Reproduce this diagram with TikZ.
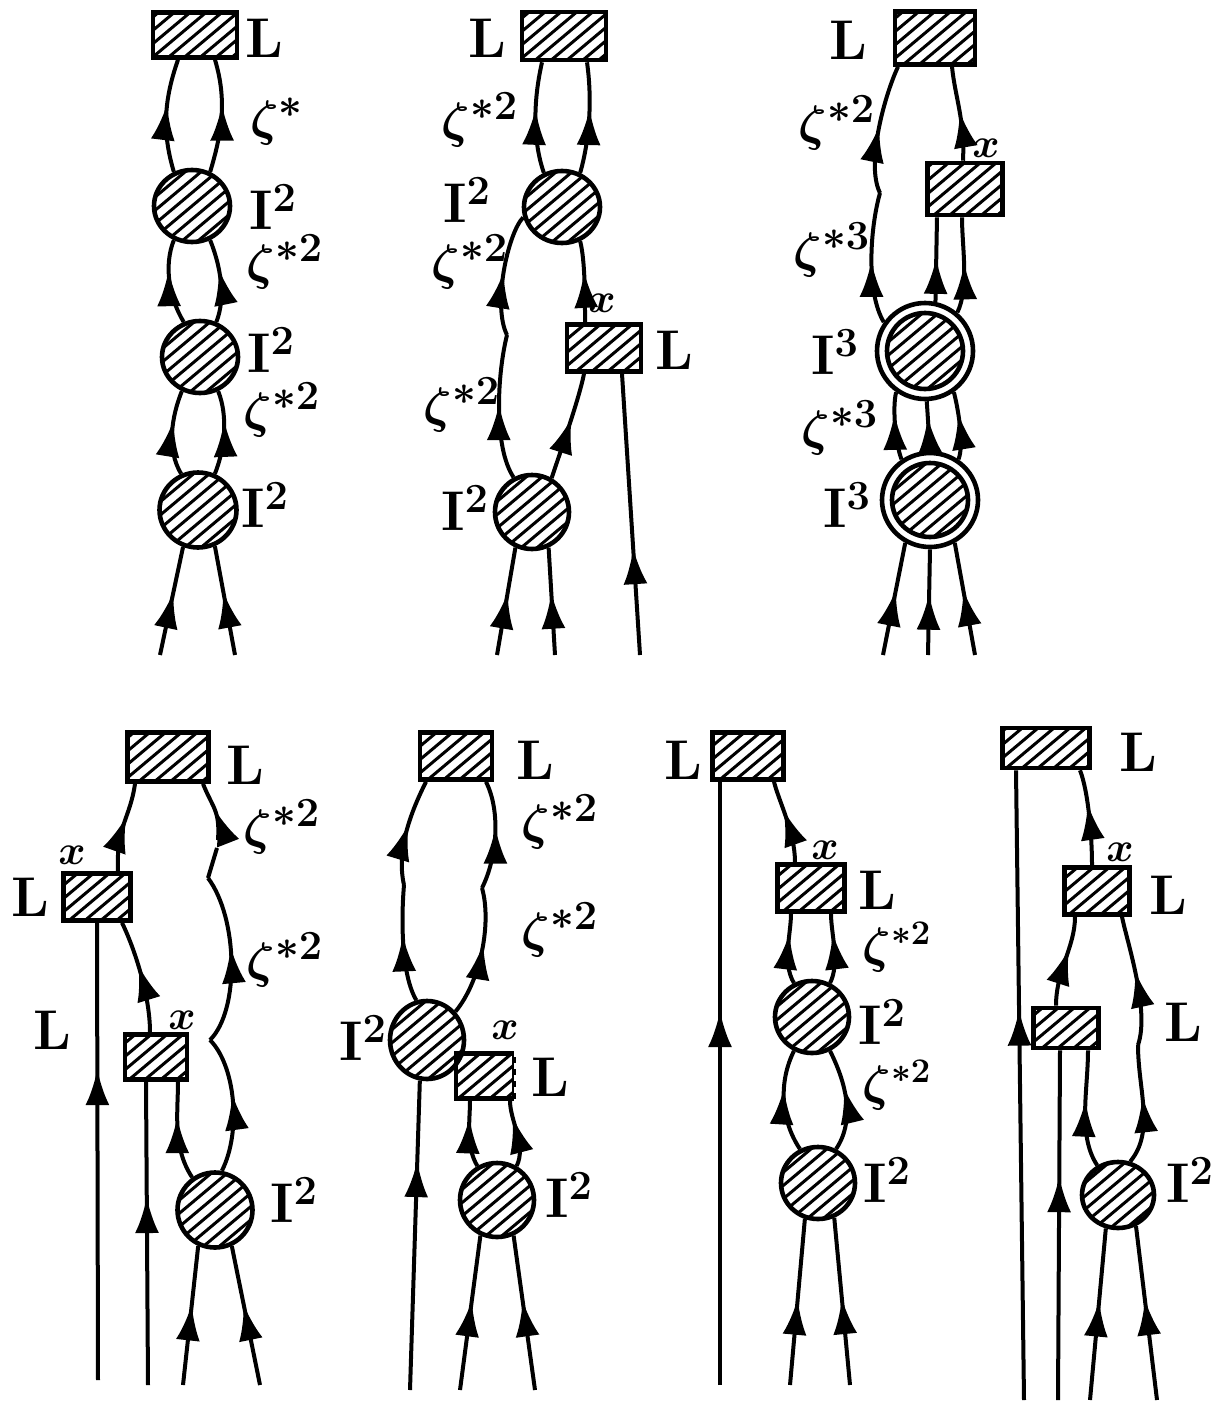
\documentclass[tikz,border=0pt]{standalone}
\usetikzlibrary{shapes.geometric,arrows.meta,decorations.markings}
\begin{document}
\begin{tikzpicture}[x=0.5pt,y=-0.5pt,
  hatched/.style={path picture={
    \foreach \k in {-14,...,14}{
      \draw[line width=1.5pt] ([shift={(130:\k*5.1pt)}]path picture bounding box.center) ++(40:-45pt) -- ++(40:90pt);
    }}},
  hbox/.style={draw, line width=2.3pt, rectangle, inner sep=0pt, hatched},
  hcirc/.style={draw, line width=2.3pt, ellipse, inner sep=0pt, hatched},
  ring/.style={draw, line width=2.3pt, ellipse, inner sep=0pt, fill=white},
  wire/.style={line width=2pt},
  arr/.style={postaction={decorate, decoration={markings,
      mark=at position #1 with {\arrow{Latex[length=18pt,width=12pt]}}}}},
  lab/.style={font=\fontsize{28}{32}\selectfont\bfseries\boldmath, inner sep=0pt},
  slab/.style={font=\fontsize{25}{29}\selectfont\bfseries\boldmath, inner sep=0pt},
  xlab/.style={font=\fontsize{21}{25}\selectfont\boldmath, inner sep=0pt}
]
\fill[white] (0,0) rectangle (1227,1402);
\useasboundingbox (0,0) rectangle (1227,1402);

% ---------- diagram 1: ladder of three blobs ----------
\node[hbox, minimum width=42pt, minimum height=22.5pt] (b1) at (195,35) {};
\node[hcirc, minimum width=38pt, minimum height=36pt] (c11) at (192,206) {};
\node[hcirc, minimum width=38pt, minimum height=36pt] (c12) at (200,357) {};
\node[hcirc, minimum width=38.5pt, minimum height=37.5pt] (c13) at (198,510) {};
\node[lab] (t11) at (264,38) {L};
\node[lab] (t12) at (277,122) {$\zeta^{*}$};
\node[lab] (t13) at (273,207) {I$^2$};
\node[lab] (t14) at (285,262) {$\zeta^{*2}$};
\node[lab] (t15) at (271,350) {I$^2$};
\node[lab] (t16) at (282,410) {$\zeta^{*2}$};
\node[lab] (t17) at (265,505) {I$^2$};
\coordinate (e11) at (160,655);
\coordinate (e12) at (235,655);
\draw[wire, arr=0.6] (c11.118) .. controls +(-12,-40) and +(-14,40) .. ([shift={(-17,0)}]b1.south);
\draw[wire, arr=0.6] (c11.62) .. controls +(12,-40) and +(12,40) .. ([shift={(20,0)}]b1.south);
\draw[wire, arr=0.64] (c12.115) .. controls +(-15,-25) and +(-10,25) .. (c11.-118);
\draw[wire, arr=0.64] (c12.65) .. controls +(10,-25) and +(10,25) .. (c11.-62);
\draw[wire, arr=0.64] (c13.115) .. controls +(-15,-25) and +(-10,25) .. (c12.-118);
\draw[wire, arr=0.64] (c13.65) .. controls +(10,-25) and +(10,25) .. (c12.-62);
\draw[wire, arr=0.58] (e11) -- (c13.-112);
\draw[wire, arr=0.58] (e12) -- (c13.-65);

% ---------- diagram 2 ----------
\node[hbox, minimum width=42pt, minimum height=24pt] (b2) at (564,36) {};
\node[hcirc, minimum width=38pt, minimum height=36pt] (c21) at (562,207) {};
\node[hbox, minimum width=37pt, minimum height=23.5pt] (b22) at (604,348) {};
\node[hcirc, minimum width=37pt, minimum height=37pt] (c22) at (532,512) {};
\node[lab] (t21) at (487,38) {L};
\node[lab] (t22) at (480,120) {$\zeta^{*2}$};
\node[lab] (t23) at (467,200) {I$^2$};
\node[lab] (t24) at (470,262) {$\zeta^{*2}$};
\node[lab] (t25) at (462,405) {$\zeta^{*2}$};
\node[xlab] (t26) at (602,303) {$x$};
\node[lab] (t27) at (674,350) {L};
\node[lab] (t28) at (465,508) {I$^2$};
\coordinate (k21) at (507,335);
\coordinate (e21) at (497,655);
\coordinate (e22) at (555,655);
\coordinate (e23) at (640,655);
\draw[wire, arr=0.58] (c21.118) .. controls +(-12,-35) and +(-8,35) .. ([shift={(-22,0)}]b2.south);
\draw[wire, arr=0.58] (c21.62) .. controls +(10,-35) and +(5,35) .. ([shift={(23,0)}]b2.south);
\draw[wire, arr=0.62] ([shift={(-19,0)}]b22.north) .. controls +(0,-25) and +(5,20) .. (c21.-62);
\draw[wire, arr=0.58] (c22.60) .. controls +(10,-30) and +(-5,25) .. ([shift={(-20,0)}]b22.south);
\draw[wire, arr=0.52] (c22.118) .. controls +(-20,-30) and +(-10,40) .. (k21);
\draw[wire, arr=0.52] (k21) .. controls +(-15,-30) and +(-15,15) .. (c21.195);
\draw[wire, arr=0.58] (e21) -- (c22.-115);
\draw[wire, arr=0.58] (e22) -- (c22.-65);
\draw[wire, arr=0.38] (e23) -- ([shift={(18,0)}]b22.south);

% ---------- diagram 3: double blobs ----------
\node[hbox, minimum width=40pt, minimum height=26.5pt] (b3) at (935,38) {};
\node[hbox, minimum width=37.5pt, minimum height=26pt] (b32) at (965,189) {};
\node[ring, minimum width=48pt, minimum height=48pt] (d31o) at (925,351) {};
\node[hcirc, minimum width=38pt, minimum height=38pt] (d31) at (925,351) {};
\node[ring, minimum width=48pt, minimum height=47pt] (d32o) at (930,500) {};
\node[hcirc, minimum width=38pt, minimum height=37pt] (d32) at (930,500) {};
\node[lab] (t31) at (848,40) {L};
\node[lab] (t32) at (837,123) {$\zeta^{*2}$};
\node[xlab] (t33) at (986,148) {$x$};
\node[lab] (t34) at (832,250) {$\zeta^{*3}$};
\node[lab] (t35) at (835,352) {I$^3$};
\node[lab] (t36) at (840,428) {$\zeta^{*3}$};
\node[lab] (t37) at (847,505) {I$^3$};
\coordinate (k31) at (880,193);
\coordinate (e31) at (883,655);
\coordinate (e32) at (928,655);
\coordinate (e33) at (975,655);
\draw[wire, arr=0.48] (d31o.145) .. controls +(-18,-30) and +(-10,35) .. (k31);
\draw[wire, arr=0.52] (k31) .. controls +(-15,-30) and +(-12,25) .. ([shift={(-37,0)}]b3.south);
\draw[wire, arr=0.52] ([shift={(-2,0)}]b32.north) .. controls +(2,-40) and +(3,30) .. ([shift={(17,0)}]b3.south);
\draw[wire, arr=0.52] (d31o.78) -- ([shift={(-28,0)}]b32.south);
\draw[wire, arr=0.52] (d31o.50) .. controls +(12,-25) and +(0,30) .. ([shift={(-3,0)}]b32.south);
\draw[wire, arr=0.68] (d32o.125) .. controls +(-6,-15) and +(-4,15) .. (d31o.-125);
\draw[wire, arr=0.68] (d32o.90) -- (d31o.-88);
\draw[wire, arr=0.68] (d32o.55) .. controls +(6,-15) and +(4,15) .. (d31o.-55);
\draw[wire, arr=0.58] (e31) -- (d32o.-120);
\draw[wire, arr=0.58] (e32) -- (d32o.-90);
\draw[wire, arr=0.58] (e33) -- (d32o.-60);

% ---------- diagram 4 ----------
\node[hbox, minimum width=40.5pt, minimum height=24.5pt] (b41) at (168,757) {};
\node[hbox, minimum width=33.5pt, minimum height=23.5pt] (b42) at (97,897) {};
\node[hbox, minimum width=31pt, minimum height=22.5pt] (b43) at (156,1057) {};
\node[hcirc, minimum width=37.5pt, minimum height=37.5pt] (c41) at (215,1210) {};
\node[lab] (t41) at (245,765) {L};
\node[lab] (t42) at (282,827) {$\zeta^{*2}$};
\node[xlab] (t43) at (72,855) {$x$};
\node[lab] (t44) at (30,897) {L};
\node[lab] (t45) at (285,960) {$\zeta^{*2}$};
\node[xlab] (t46) at (182,1020) {$x$};
\node[lab] (t47) at (52,1030) {L};
\node[lab] (t48) at (294,1200) {I$^2$};
\coordinate (k41) at (210,1040);
\coordinate (k42) at (208,878);
\coordinate (k43) at (217,848);
\coordinate (k44) at (218,840);
\coordinate (e41) at (98,1380);
\coordinate (e42) at (148,1385);
\coordinate (e43) at (183,1385);
\coordinate (e44) at (260,1385);
\draw[wire, arr=0.68] (e41) -- (b42.south);
\draw[wire, arr=0.62] (e42) -- ([shift={(-10,0)}]b43.south);
\draw[wire, arr=0.6] ([shift={(-6,0)}]b43.north) .. controls +(0,-40) and +(10,20) .. ([shift={(25,0)}]b42.south);
\draw[wire, arr=0.62] ([shift={(21,0)}]b42.north) .. controls +(-2,-45) and +(-5,35) .. ([shift={(-33,0)}]b41.south);
\draw[wire, arr=0.64] (c41.125) .. controls +(-20,-30) and +(0,30) .. ([shift={(22,0)}]b43.south);
\draw[wire, arr=0.57] (c41.80) .. controls +(20,-40) and +(25,25) .. (k41);
\draw[wire, arr=0.57] (k41) .. controls +(30,-30) and +(30,40) .. (k42);
\draw[wire] (k42) -- (k43);
\draw[wire, arr=0.52] (k44) .. controls +(2,-30) and +(10,25) .. ([shift={(35,0)}]b41.south);
\draw[wire, arr=0.58] (e43) -- (c41.-115);
\draw[wire, arr=0.58] (e44) -- (c41.-65);

% ---------- diagram 5 ----------
\node[hbox, minimum width=36pt, minimum height=23.5pt] (b51) at (456,756) {};
\node[hcirc, minimum width=37pt, minimum height=39pt] (c51) at (427,1040) {};
\node[hbox, minimum width=29pt, minimum height=22.5pt] (b52) at (485,1076) {};
\draw[white, line width=2.5pt, dash pattern=on 3pt off 3pt] (b52.north east) -- (b52.south east);
\node[hcirc, minimum width=37pt, minimum height=37pt] (c52) at (497,1200) {};
\node[lab] (t51) at (535,760) {L};
\node[lab] (t52) at (560,822) {$\zeta^{*2}$};
\node[lab] (t53) at (560,930) {$\zeta^{*2}$};
\node[lab] (t54) at (363,1038) {I$^2$};
\node[xlab] (t55) at (505,1030) {$x$};
\node[lab] (t56) at (550,1077) {L};
\node[lab] (t57) at (569,1195) {I$^2$};
\coordinate (k51) at (404,885);
\coordinate (k52) at (482,888);
\coordinate (e51) at (410,1390);
\coordinate (e52) at (460,1390);
\coordinate (e53) at (535,1390);
\draw[wire, arr=0.57] (c51.105) .. controls +(-15,-25) and +(-3,35) .. (k51);
\draw[wire, arr=0.57] (k51) .. controls +(-8,-35) and +(-15,30) .. ([shift={(-30,0)}]b51.south);
\draw[wire, arr=0.57] (c51.45) .. controls +(25,-30) and +(10,35) .. (k52);
\draw[wire, arr=0.57] (k52) .. controls +(15,-30) and +(15,30) .. ([shift={(30,0)}]b51.south);
\draw[wire, arr=0.74] (e51) -- (c51.-100);
\draw[wire, arr=0.75] (c52.120) .. controls +(-12,-20) and +(0,20) .. ([shift={(-15,0)}]b52.south);
\draw[wire, arr=0.75] (c52.60) .. controls +(10,-20) and +(0,20) .. ([shift={(25,0)}]b52.south);
\draw[wire, arr=0.58] (e52) -- (c52.-115);
\draw[wire, arr=0.58] (e53) -- (c52.-65);

% ---------- diagram 6 ----------
\node[hbox, minimum width=35.5pt, minimum height=23.5pt] (b61) at (748,756) {};
\node[hbox, minimum width=33.5pt, minimum height=23.5pt] (b62) at (811,888) {};
\node[hcirc, minimum width=37pt, minimum height=36pt] (c61) at (812,1017) {};
\node[hcirc, minimum width=37pt, minimum height=36pt] (c62) at (818,1183) {};
\node[lab] (t61) at (683,760) {L};
\node[xlab] (t62) at (825,850) {$x$};
\node[lab] (t63) at (877,890) {L};
\node[slab] (t64) at (897,947) {$\zeta^{*2}$};
\node[lab] (t65) at (882,1022) {I$^2$};
\node[slab] (t66) at (897,1085) {$\zeta^{*2}$};
\node[lab] (t67) at (887,1180) {I$^2$};
\coordinate (e61) at (720,1385);
\coordinate (e62) at (790,1385);
\coordinate (e63) at (850,1385);
\draw[wire, arr=0.62] (e61) -- ([shift={(-28,0)}]b61.south);
\draw[wire, arr=0.64] ([shift={(-16,0)}]b62.north) .. controls +(0,-30) and +(5,20) .. ([shift={(26,0)}]b61.south);
\draw[wire, arr=0.72] (c61.118) .. controls +(-12,-20) and +(0,20) .. ([shift={(-20,0)}]b62.south);
\draw[wire, arr=0.72] (c61.62) .. controls +(10,-20) and +(0,20) .. ([shift={(20,0)}]b62.south);
\draw[wire, arr=0.62] (c62.118) .. controls +(-20,-30) and +(-15,30) .. (c61.-118);
\draw[wire, arr=0.62] (c62.62) .. controls +(20,-30) and +(15,30) .. (c61.-62);
\draw[wire, arr=0.52] (e62) -- (c62.-110);
\draw[wire, arr=0.52] (e63) -- (c62.-65);

% ---------- diagram 7 ----------
\node[hbox, minimum width=43.5pt, minimum height=20pt] (b71) at (1046,748) {};
\node[hbox, minimum width=32.5pt, minimum height=23.5pt] (b72) at (1097,891) {};
\node[hbox, minimum width=32.5pt, minimum height=20pt] (b73) at (1066,1028) {};
\node[hcirc, minimum width=36pt, minimum height=33pt] (c71) at (1118,1195) {};
\node[lab] (t71) at (1138,752) {L};
\node[xlab] (t72) at (1120,852) {$x$};
\node[lab] (t73) at (1168,895) {L};
\node[lab] (t74) at (1183,1022) {L};
\node[lab] (t75) at (1190,1180) {I$^2$};
\coordinate (k71) at (1138,1045);
\coordinate (e71) at (1024,1400);
\coordinate (e72) at (1058,1400);
\coordinate (e73) at (1090,1400);
\coordinate (e74) at (1157,1400);
\draw[wire, arr=0.62] (e71) -- ([shift={(-30,0)}]b71.south);
\draw[wire, arr=0.64] (e72) -- ([shift={(-6,0)}]b73.south);
\draw[wire, arr=0.64] ([shift={(-5,0)}]b72.north) .. controls +(0,-30) and +(8,20) .. ([shift={(34,0)}]b71.south);
\draw[wire, arr=0.64] ([shift={(-10,0)}]b73.north) .. controls +(0,-35) and +(0,30) .. ([shift={(-22,0)}]b72.south);
\draw[wire, arr=0.57] (c71.125) .. controls +(-20,-30) and +(0,40) .. ([shift={(22,0)}]b73.south);
\draw[wire, arr=0.57] (c71.70) .. controls +(25,-30) and +(0,45) .. (k71);
\draw[wire, arr=0.57] (k71) .. controls +(12,-35) and +(5,25) .. ([shift={(25,0)}]b72.south);
\draw[wire, arr=0.58] (e73) -- (c71.-110);
\draw[wire, arr=0.58] (e74) -- (c71.-60);
\end{tikzpicture}
\end{document}
